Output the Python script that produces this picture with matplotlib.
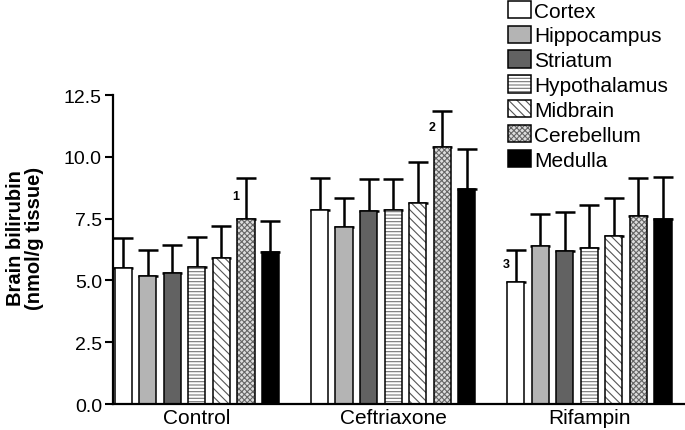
import matplotlib
matplotlib.use("Agg")
import matplotlib.pyplot as plt
import numpy as np

plt.rcParams['font.family'] = ['Liberation Sans', 'DejaVu Sans']
plt.rcParams['hatch.linewidth'] = 0.8

groups = ["Control", "Ceftriaxone", "Rifampin"]
regions = ["Cortex", "Hippocampus", "Striatum", "Hypothalamus", "Midbrain", "Cerebellum", "Medulla"]

# means [group][region]
means = {
    "Control":     [5.50, 5.20, 5.30, 5.55, 5.90, 7.50, 6.15],
    "Ceftriaxone": [7.85, 7.15, 7.80, 7.85, 8.15, 10.40, 8.70],
    "Rifampin":    [4.95, 6.40, 6.20, 6.30, 6.80, 7.60, 7.50],
}
# upper error (SD)
errors = {
    "Control":     [1.20, 1.05, 1.15, 1.20, 1.30, 1.65, 1.25],
    "Ceftriaxone": [1.30, 1.20, 1.30, 1.25, 1.65, 1.45, 1.60],
    "Rifampin":    [1.30, 1.30, 1.55, 1.75, 1.55, 1.55, 1.70],
}
# significance marks: (group, region, label)
marks = [("Control", "Cerebellum", "1"), ("Ceftriaxone", "Cerebellum", "2"), ("Rifampin", "Cortex", "3")]

yticks = [0.0, 2.5, 5.0, 7.5, 10.0, 12.5]

styles = {
    "Cortex":       dict(face="white",   hatch=None,        hcol="black"),
    "Hippocampus":  dict(face="#b4b4b4", hatch=None,        hcol="black"),
    "Striatum":     dict(face="#626262", hatch=None,        hcol="black"),
    "Hypothalamus": dict(face="white",   hatch="-----",     hcol="#777777"),
    "Midbrain":     dict(face="white",   hatch="\\\\\\\\",  hcol="#555555"),
    "Cerebellum":   dict(face="#dddddd", hatch="xxxxxx",    hcol="#666666"),
    "Medulla":      dict(face="black",   hatch=None,        hcol="black"),
}

fig = plt.figure(figsize=(6.85, 4.31), dpi=100)
ax = fig.add_axes([0.165, 0.0603, 0.835, 0.7167])

group_step = 8
width = 0.7
handles = {}
for gi, g in enumerate(groups):
    for ri, r in enumerate(regions):
        x = gi * group_step + ri
        st = styles[r]
        b1 = ax.bar(x, means[g][ri], width=width, color=st["face"], hatch=st["hatch"],
                    edgecolor=st["hcol"], linewidth=0, zorder=2)
        b2 = ax.bar(x, means[g][ri], width=width, facecolor="none",
                    edgecolor="black", linewidth=1.1, zorder=3)
        ax.errorbar(x, means[g][ri], yerr=[[0], [errors[g][ri]]], fmt="none",
                    ecolor="black", elinewidth=1.8, capsize=7, capthick=1.8, zorder=1)
        if gi == 0:
            handles[r] = (b1[0], b2[0])

for g, r, lab in marks:
    gi = groups.index(g)
    ri = regions.index(r)
    x = gi * group_step + ri
    y = means[g][ri] + 0.55 * errors[g][ri]
    ax.text(x - 0.4, y, lab, fontsize=9, fontweight="bold", ha="center", va="center")

ax.set_xlim(-0.42, 22.9)
ax.set_ylim(0, 12.5)
ax.set_yticks(yticks)
ax.set_yticklabels([f"{v:.1f}" for v in yticks], fontsize=14)
ax.set_xticks([gi * group_step + 3 for gi in range(len(groups))])
ax.set_xticklabels(groups, fontsize=15)
ax.tick_params(axis="x", length=0, pad=3)
ax.tick_params(axis="y", length=6, width=1.5, pad=2)
for s in ["top", "right"]:
    ax.spines[s].set_visible(False)
for s in ["left", "bottom"]:
    ax.spines[s].set_linewidth(1.6)
ax.spines["bottom"].set_zorder(4)

ax.set_ylabel("Brain bilirubin\n(nmol/g tissue)", fontsize=14.5, fontweight="bold", linespacing=1.0)
ax.yaxis.set_label_coords(-0.12, 0.54)

leg = fig.legend([handles[r] for r in regions], regions, loc="upper left",
                 bbox_to_anchor=(0.742, 0.996), frameon=False, fontsize=15,
                 handlelength=1.1, handleheight=0.9, handletextpad=0.15,
                 labelspacing=0.24, borderpad=0.0, borderaxespad=0.0)

fig.savefig("out.png", dpi=100)
